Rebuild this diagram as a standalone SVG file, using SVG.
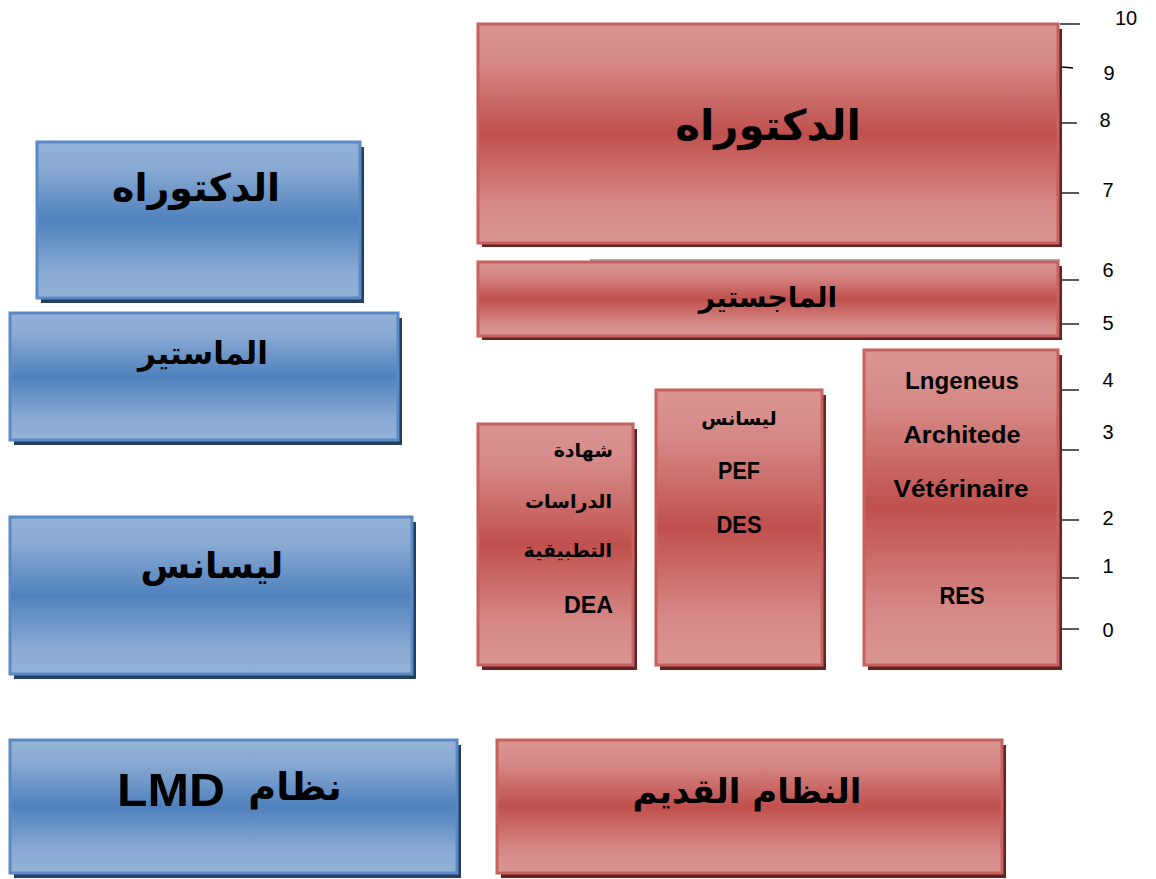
<svg xmlns="http://www.w3.org/2000/svg" width="1156" height="879" viewBox="0 0 1156 879">
<defs>
<linearGradient id="gRed" x1="0" y1="0" x2="0" y2="1">
<stop offset="0" stop-color="#da9694"/>
<stop offset="0.18" stop-color="#d58886"/>
<stop offset="0.5" stop-color="#c0504d"/>
<stop offset="0.82" stop-color="#d58886"/>
<stop offset="1" stop-color="#da9694"/>
</linearGradient>
<linearGradient id="gBlue" x1="0" y1="0" x2="0" y2="1">
<stop offset="0" stop-color="#95b3d7"/>
<stop offset="0.18" stop-color="#88a9d2"/>
<stop offset="0.5" stop-color="#4f81bd"/>
<stop offset="0.82" stop-color="#88a9d2"/>
<stop offset="1" stop-color="#95b3d7"/>
</linearGradient>
<style>
.red{fill:url(#gRed);stroke:#c8605d;stroke-width:3}
.blue{fill:url(#gBlue);stroke:#5a8ac6;stroke-width:3}
.rs{fill:#632523}
.bs{fill:#243f60}
.ar{font-family:"DejaVu Sans",sans-serif;font-weight:bold;fill:#000;text-anchor:middle}
.lt{font-family:"Liberation Sans",Arial,sans-serif;font-weight:bold;fill:#000;text-anchor:middle}
.end{text-anchor:end}
.num{font-family:"Liberation Sans",Arial,sans-serif;font-size:20px;fill:#000;text-anchor:middle}
.tick{stroke:#000;stroke-width:1.3}
</style>
</defs>
<rect width="1156" height="879" fill="#fff"/>

<g id="axis">
<line x1="590" y1="260" x2="1060" y2="260" stroke="#555" stroke-width="1"/>
<line class="tick" x1="1060" y1="24" x2="1080" y2="24"/>
<line class="tick" x1="1062" y1="67" x2="1073" y2="68"/>
<line class="tick" x1="1062" y1="123" x2="1077" y2="123"/>
<line class="tick" x1="1062" y1="193" x2="1079" y2="193"/>
<line class="tick" x1="1062" y1="280" x2="1079" y2="280"/>
<line class="tick" x1="1062" y1="324" x2="1079" y2="324"/>
<line class="tick" x1="1062" y1="390" x2="1079" y2="390"/>
<line class="tick" x1="1062" y1="450" x2="1079" y2="450"/>
<line class="tick" x1="1062" y1="520" x2="1079" y2="520"/>
<line class="tick" x1="1062" y1="578" x2="1079" y2="578"/>
<line class="tick" x1="1062" y1="629" x2="1079" y2="629"/>
<text class="num" x="1126" y="25">10</text>
<text class="num" x="1109" y="80">9</text>
<text class="num" x="1105" y="127">8</text>
<text class="num" x="1108" y="197">7</text>
<text class="num" x="1108" y="277">6</text>
<text class="num" x="1108" y="330">5</text>
<text class="num" x="1108" y="387">4</text>
<text class="num" x="1108" y="439">3</text>
<text class="num" x="1108" y="525">2</text>
<text class="num" x="1108" y="573">1</text>
<text class="num" x="1108" y="637">0</text>
</g>

<g id="old-doctorat">
<rect class="rs" x="482" y="29" width="580" height="218"/>
<rect class="red" x="478" y="24" width="580" height="219"/>
<text class="ar" x="768" y="140" font-size="42">الدكتوراه</text>
</g>
<g id="magister">
<rect class="rs" x="482" y="266" width="580" height="74"/>
<rect class="red" x="478" y="262" width="580" height="74"/>
<text class="ar" x="768" y="307" font-size="28">الماجستير</text>
</g>
<g id="dea">
<rect class="rs" x="482" y="429" width="155" height="241"/>
<rect class="red" x="478" y="424" width="155" height="241"/>
<text class="ar end" x="613" y="457" font-size="19">شهادة</text>
<text class="ar end" x="612" y="508" font-size="19">الدراسات</text>
<text class="ar end" x="612" y="557" font-size="19">التطبيقية</text>
<text class="lt end" x="613" y="613" font-size="24" textLength="49" lengthAdjust="spacingAndGlyphs">DEA</text>
</g>
<g id="old-licence">
<rect class="rs" x="660" y="395" width="166" height="275"/>
<rect class="red" x="656" y="390" width="166" height="275"/>
<text class="ar" x="739" y="425" font-size="19">ليسانس</text>
<text class="lt" x="739" y="479" font-size="24" textLength="42" lengthAdjust="spacingAndGlyphs">PEF</text>
<text class="lt" x="739" y="533" font-size="24" textLength="45" lengthAdjust="spacingAndGlyphs">DES</text>
</g>
<g id="res">
<rect class="rs" x="868" y="355" width="194" height="315"/>
<rect class="red" x="864" y="350" width="194" height="315"/>
<text class="lt" x="962" y="389" font-size="24" textLength="114" lengthAdjust="spacingAndGlyphs">Lngeneus</text>
<text class="lt" x="962" y="443" font-size="24" textLength="117" lengthAdjust="spacingAndGlyphs">Architede</text>
<text class="lt" x="961" y="497" font-size="24" textLength="135" lengthAdjust="spacingAndGlyphs">Vétérinaire</text>
<text class="lt" x="962" y="604" font-size="24" textLength="45" lengthAdjust="spacingAndGlyphs">RES</text>
</g>
<g id="old-system">
<rect class="rs" x="501" y="745" width="505" height="133"/>
<rect class="red" x="497" y="740" width="505" height="133"/>
<text class="ar" x="747" y="803" font-size="34">النظام القديم</text>
</g>

<g id="lmd-doctorat">
<rect class="bs" x="41" y="147" width="323" height="156"/>
<rect class="blue" x="37" y="142" width="323" height="156"/>
<text class="ar" x="196" y="201" font-size="38">الدكتوراه</text>
</g>
<g id="master">
<rect class="bs" x="14" y="318" width="388" height="127"/>
<rect class="blue" x="10" y="313" width="388" height="127"/>
<text class="ar" x="203" y="364" font-size="31">الماستير</text>
</g>
<g id="lmd-licence">
<rect class="bs" x="14" y="522" width="402" height="157"/>
<rect class="blue" x="10" y="517" width="402" height="157"/>
<text class="ar" x="212" y="578" font-size="36">ليسانس</text>
</g>
<g id="lmd">
<rect class="bs" x="14" y="745" width="447" height="133"/>
<rect class="blue" x="10" y="740" width="447" height="133"/>
<text class="lt" x="171" y="806" font-size="47" textLength="108" lengthAdjust="spacingAndGlyphs">LMD</text>
<text class="ar" x="295" y="800" font-size="38">نظام</text>
</g>

<g id="connectors"></g>
</svg>
